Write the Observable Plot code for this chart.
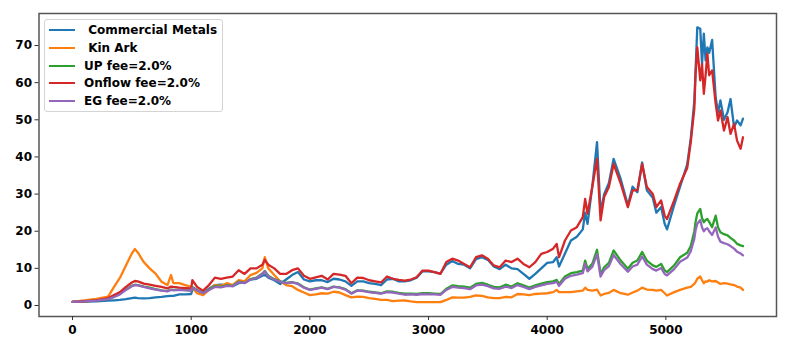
<!DOCTYPE html>
<html><head><meta charset="utf-8">
<script src="https://cdn.jsdelivr.net/npm/d3@7"></script>
<script src="https://cdn.jsdelivr.net/npm/@observablehq/plot@0.6"></script>
<style>
body{margin:0;background:#fff;}
#wrap{position:relative;width:789px;height:351px;}
.legend{position:absolute;left:44px;top:19px;width:179px;height:93px;border:1px solid #d4d4d4;border-radius:3px;background:rgba(255,255,255,0.8);box-sizing:border-box;font:bold 12px "DejaVu Sans",sans-serif;color:#000;}
.row{position:absolute;left:0;height:14px;}
.sw{position:absolute;left:4px;top:6px;width:26px;height:2px;}
.lb{position:absolute;left:39px;top:-1px;white-space:pre;line-height:16px;}
</style>
</head><body>
<div id="wrap"></div>
<script>
const t = [0,100,200,300,350,400,450,500,525,550,600,650,700,750,800,830,850,900,950,1000,1010,1050,1100,1150,1200,1250,1300,1350,1400,1450,1500,1550,1600,1620,1650,1700,1750,1800,1850,1900,1950,2000,2050,2100,2150,2200,2250,2300,2350,2400,2450,2500,2550,2600,2650,2700,2750,2800,2850,2900,2950,3000,3050,3100,3150,3200,3250,3300,3350,3400,3450,3500,3550,3600,3650,3700,3750,3800,3850,3900,3950,4000,4050,4080,4100,4150,4200,4250,4300,4320,4340,4380,4420,4450,4480,4520,4560,4620,4680,4720,4760,4800,4840,4890,4920,4960,4990,5010,5070,5120,5180,5210,5240,5250,5265,5290,5305,5320,5335,5350,5365,5390,5420,5440,5460,5490,5520,5545,5575,5600,5630,5650];
const commercialMetals = [1.0,1.05,1.1,1.3,1.4,1.5,1.7,2.0,2.1,2.0,1.9,2.0,2.2,2.3,2.5,2.6,2.6,3.0,3.0,3.1,4.3,4.0,3.4,4.5,5.5,5.6,5.5,5.2,6.0,6.2,7.0,7.2,8.0,8.3,7.5,6.8,5.8,7.0,8.2,9.0,7.0,6.5,6.8,6.8,6.3,7.2,7.0,6.5,5.3,6.5,6.5,6.0,5.8,5.5,7.0,7.2,6.5,6.5,6.8,7.5,9.2,9.2,9.0,8.6,11.0,12.0,11.2,11.0,10.0,12.5,13.0,12.3,10.5,9.8,11.0,10.0,9.8,8.5,7.2,8.5,10.0,11.5,11.7,13.0,10.5,14.0,17.5,18.5,20.5,25.0,22.0,32.0,44.0,25.0,30.0,33.0,39.5,34.0,27.0,32.0,30.5,38.5,31.0,29.0,25.0,26.5,22.0,20.5,27.0,32.0,38.0,45.0,55.0,63.0,74.9,74.5,65.0,73.2,66.0,69.5,68.0,71.5,56.0,52.0,55.2,50.0,52.0,55.6,48.0,49.8,48.5,50.3];
const kinArk = [1.0,1.4,1.8,2.4,5.0,7.5,10.8,14.0,15.2,14.3,11.7,10.0,8.6,6.4,5.5,8.2,6.0,6.0,5.5,5.0,4.8,3.3,2.8,4.2,5.5,5.3,6.0,5.5,6.8,6.5,8.2,8.8,10.0,13.0,10.0,8.2,6.5,5.5,5.2,4.2,3.5,2.8,3.0,3.3,3.2,3.7,3.5,2.8,2.2,2.4,2.3,2.0,1.8,1.5,1.5,1.2,1.3,1.35,1.1,0.9,0.9,0.9,0.9,0.9,1.5,2.2,2.1,2.1,2.3,2.7,2.6,2.2,2.0,2.0,2.3,2.2,3.1,3.0,2.8,3.1,3.2,3.3,3.6,4.2,3.6,3.6,3.6,3.8,4.0,4.8,4.2,4.0,4.3,2.7,3.1,3.4,4.2,3.3,2.9,3.5,4.0,4.8,4.3,4.2,4.0,4.2,3.3,2.7,3.6,4.2,4.8,5.0,5.8,6.3,7.2,7.8,6.8,6.0,6.5,6.4,6.8,6.5,6.6,6.2,5.8,6.0,5.9,5.7,5.5,5.1,4.8,4.2];
const upFee = [1.0,1.1,1.3,1.8,2.4,3.2,4.3,5.3,5.6,5.5,5.1,4.8,4.4,4.1,3.9,4.3,4.2,4.3,4.2,4.0,5.0,4.2,3.4,4.3,5.2,5.0,5.4,5.3,6.4,6.1,7.1,7.5,8.6,9.3,8.0,7.1,6.5,6.1,6.3,5.9,4.9,4.3,4.6,4.9,4.5,5.1,4.9,4.4,3.3,4.1,4.0,3.7,3.5,3.3,3.8,3.7,3.4,3.2,3.2,3.1,3.3,3.3,3.2,3.1,4.5,5.4,5.2,5.1,4.8,5.8,6.1,5.6,5.0,4.9,5.6,5.1,6.0,5.4,4.8,5.4,5.9,6.3,6.5,6.9,5.8,7.8,8.7,9.0,9.4,12.1,9.9,11.2,15.0,8.5,10.3,11.5,14.8,12.1,9.9,11.5,12.1,14.4,12.1,10.8,10.4,11.2,9.4,9.0,10.8,13.0,14.2,16.0,20.0,22.4,24.8,26.0,23.5,22.4,23.0,23.3,22.5,21.1,24.2,21.0,19.7,19.2,18.9,18.2,17.5,16.6,16.2,16.0];
const onflowFee = [1.0,1.15,1.4,2.0,2.8,3.6,5.0,6.2,6.6,6.5,5.9,5.6,5.3,5.0,4.6,5.1,5.0,4.8,4.7,4.6,6.8,5.0,4.0,5.5,7.5,7.2,7.5,7.8,9.5,8.5,10.0,10.0,11.0,12.3,11.0,10.0,8.5,8.5,9.5,10.0,8.0,7.2,7.6,8.0,7.0,8.5,8.3,8.0,6.0,7.5,7.4,6.8,6.5,6.2,7.8,7.2,6.9,6.7,7.0,7.6,9.4,9.4,9.0,8.5,11.7,12.6,12.1,11.2,10.3,13.0,13.5,12.6,10.8,10.3,12.1,11.7,12.6,11.2,10.3,11.7,13.9,14.4,15.3,16.6,13.0,17.5,20.2,21.1,23.8,28.7,24.7,31.9,39.5,22.9,29.2,31.9,38.1,32.8,26.5,31.0,31.0,38.1,31.9,30.0,26.5,28.3,24.2,23.3,28.3,32.8,37.0,44.0,53.0,62.0,69.5,60.6,65.0,57.0,62.0,67.8,62.0,63.3,54.3,49.8,52.5,47.1,50.7,46.2,48.9,44.4,42.2,45.3];
const egFee = [1.0,1.1,1.3,1.7,2.3,3.0,4.2,5.2,5.5,5.4,5.0,4.6,4.3,4.0,3.8,4.2,4.1,4.2,4.1,4.0,4.8,4.1,3.3,4.2,5.0,4.9,5.3,5.2,6.3,6.0,7.0,7.4,8.5,9.2,7.8,7.0,6.4,6.0,6.2,5.8,4.8,4.2,4.5,4.8,4.4,5.0,4.8,4.3,3.2,4.0,3.9,3.6,3.4,3.2,3.6,3.5,3.2,2.9,3.0,2.9,3.1,3.0,3.0,2.9,4.2,5.0,4.8,4.7,4.4,5.4,5.6,5.2,4.6,4.5,5.1,4.7,5.5,5.0,4.4,5.0,5.4,5.8,6.0,6.4,5.3,7.2,8.0,8.3,8.7,11.2,9.2,10.4,13.8,7.8,9.5,10.6,13.6,11.1,9.1,10.5,11.0,13.2,11.0,9.8,9.4,10.1,8.5,8.1,9.8,11.8,12.9,14.6,18.0,20.2,22.0,23.0,21.0,20.0,20.6,20.8,20.0,19.0,21.0,18.5,17.2,16.8,16.5,16.0,15.3,14.5,14.0,13.5];

const names = [" Commercial Metals", " Kin Ark", "UP fee=2.0%", "Onflow fee=2.0%", "EG fee=2.0%"];
const colors = ["#1f77b4", "#ff7f0e", "#2ca02c", "#d62728", "#9467bd"];
const xTicks = [0, 1000, 2000, 3000, 4000, 5000];
const yTicks = [0, 10, 20, 30, 40, 50, 60, 70];

const seriesVals = [commercialMetals, kinArk, upFee, onflowFee, egFee];
const rows = [];
seriesVals.forEach((vals, k) => {
  const n = Math.min(vals.length, t.length);
  if (vals.length !== t.length) console.warn("length mismatch", names[k], vals.length, t.length);
  for (let i = 0; i < n; i++) rows.push({x: t[i], y: vals[i], s: names[k]});
});

const chart = Plot.plot({
  width: 789, height: 351,
  marginLeft: 38.5, marginRight: 13, marginTop: 13, marginBottom: 35,
  style: {fontFamily: "DejaVu Sans", fontSize: "12px", fontWeight: "bold", color: "#000", background: "#fff"},
  x: {domain: [-282.5, 5932.5]},
  y: {domain: [-2.96, 78.62]},
  color: {domain: names, range: colors},
  marks: [
    Plot.line(rows, {x: "x", y: "y", z: "s", stroke: "s", strokeWidth: 2.3, strokeLinejoin: "round"}),
    Plot.frame({stroke: "#555", strokeWidth: 1.5}),
    Plot.axisX({ticks: xTicks, tickSize: 4, tickPadding: 5, stroke: "#333", label: null, tickFormat: d => String(d), fontWeight: "bold"}),
    Plot.axisY({ticks: yTicks, tickSize: 4, tickPadding: 3, stroke: "#333", label: null, tickFormat: d => String(d), fontWeight: "bold"})
  ]
});
const wrap = document.getElementById("wrap");
wrap.appendChild(chart);

const lg = document.createElement("div");
lg.className = "legend";
const rowTops = [3, 21, 39, 56, 74];
names.forEach((nm, i) => {
  const r = document.createElement("div");
  r.className = "row";
  r.style.top = rowTops[i] + "px";
  const sw = document.createElement("div");
  sw.className = "sw"; sw.style.background = colors[i];
  const lb = document.createElement("div");
  lb.className = "lb"; lb.textContent = nm;
  r.appendChild(sw); r.appendChild(lb);
  lg.appendChild(r);
});
wrap.appendChild(lg);
</script>
</body></html>
